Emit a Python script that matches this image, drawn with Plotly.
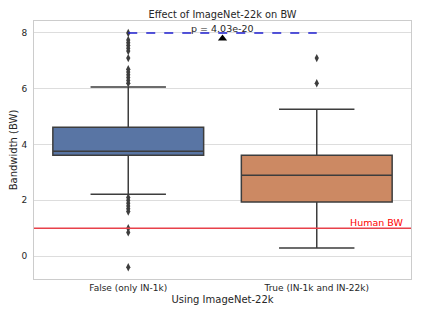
import plotly.graph_objects as go

categories = ["False (only IN-1k)", "True (IN-1k and IN-22k)"]
q1 = [3.62, 1.94]
median = [3.76, 2.90]
q3 = [4.62, 3.62]
lowerfence = [2.22, 0.29]
upperfence = [6.06, 5.27]
outliers_false = [6.2, 6.3, 6.4, 6.5, 6.6, 6.7, 7.1, 7.35, 7.45, 7.55, 7.65, 7.75, 8.0,
                  2.1, 2.0, 1.9, 1.8, 1.7, 1.6, 1.0, 0.85, -0.4]
outliers_true = [7.1, 6.2]
box_colors = ["#5975a4", "#cc8963"]
human_bw = 1.0
p_text = "p = 4.03e-20"
p_line_y = 8.0
marker_y = 7.8

line_col = "#3d3d3d"
fig = go.Figure()
for i in range(2):
    fig.add_trace(go.Box(
        x=[i], q1=[q1[i]], median=[median[i]], q3=[q3[i]],
        lowerfence=[lowerfence[i]], upperfence=[upperfence[i]],
        width=0.8, whiskerwidth=0.5, fillcolor=box_colors[i],
        line=dict(color=line_col, width=1.5), boxpoints=False, showlegend=False,
        hoverinfo="skip"))
fig.add_trace(go.Scatter(x=[0] * len(outliers_false), y=outliers_false, mode="markers",
                         marker=dict(symbol="diamond-tall", size=6, color=line_col), showlegend=False))
fig.add_trace(go.Scatter(x=[1] * len(outliers_true), y=outliers_true, mode="markers",
                         marker=dict(symbol="diamond-tall", size=6, color=line_col), showlegend=False))
# human BW line
fig.add_trace(go.Scatter(x=[-0.5, 1.5], y=[human_bw, human_bw], mode="lines",
                         line=dict(color="#e8414a", width=1.3), showlegend=False))
# p-value line
fig.add_trace(go.Scatter(x=[0, 1], y=[p_line_y, p_line_y], mode="lines",
                         line=dict(color="#1f1fd0", width=1.3, dash="dash"), showlegend=False))
fig.add_trace(go.Scatter(x=[0.5], y=[marker_y], mode="markers",
                         marker=dict(symbol="triangle-up", size=8, color="black"), showlegend=False))

fig.add_annotation(x=0.5, y=p_line_y, text=p_text, showarrow=False, yanchor="bottom",
                   yshift=-3, font=dict(size=9.5, color="#262626"))
fig.add_annotation(x=1.47, y=human_bw, text="Human BW", showarrow=False, yanchor="bottom",
                   xanchor="right", yshift=-2, font=dict(size=9.5, color="red"))

fig.update_layout(
    width=413, height=309,
    margin=dict(l=26, r=10, t=13, b=38),
    paper_bgcolor="white", plot_bgcolor="white",
    font=dict(family="DejaVu Sans", size=9, color="#262626"),
    title=dict(text="Effect of ImageNet-22k on BW", x=0.5, xref="paper", xanchor="center",
               y=0.99, yanchor="top", font=dict(size=9.8, color="#262626")),
    xaxis=dict(range=[-0.5, 1.5], tickvals=[0, 1], ticktext=categories, showgrid=False,
               zeroline=False, showline=True, linecolor="#cccccc", linewidth=1, mirror=True,
               title=dict(text="Using ImageNet-22k", font=dict(size=10), standoff=4),
               tickfont=dict(size=9), ticks="", automargin=False),
    yaxis=dict(range=[-0.82, 8.43], tickvals=[0, 2, 4, 6, 8], showgrid=True,
               gridcolor="#dddddd", gridwidth=1, zeroline=False, showline=True,
               linecolor="#cccccc", linewidth=1, mirror=True,
               title=dict(text="Bandwidth (BW)", font=dict(size=10), standoff=6),
               tickfont=dict(size=9), ticks="", ticklabelstandoff=4, automargin=False),
)
fig.write_html("out.html")
